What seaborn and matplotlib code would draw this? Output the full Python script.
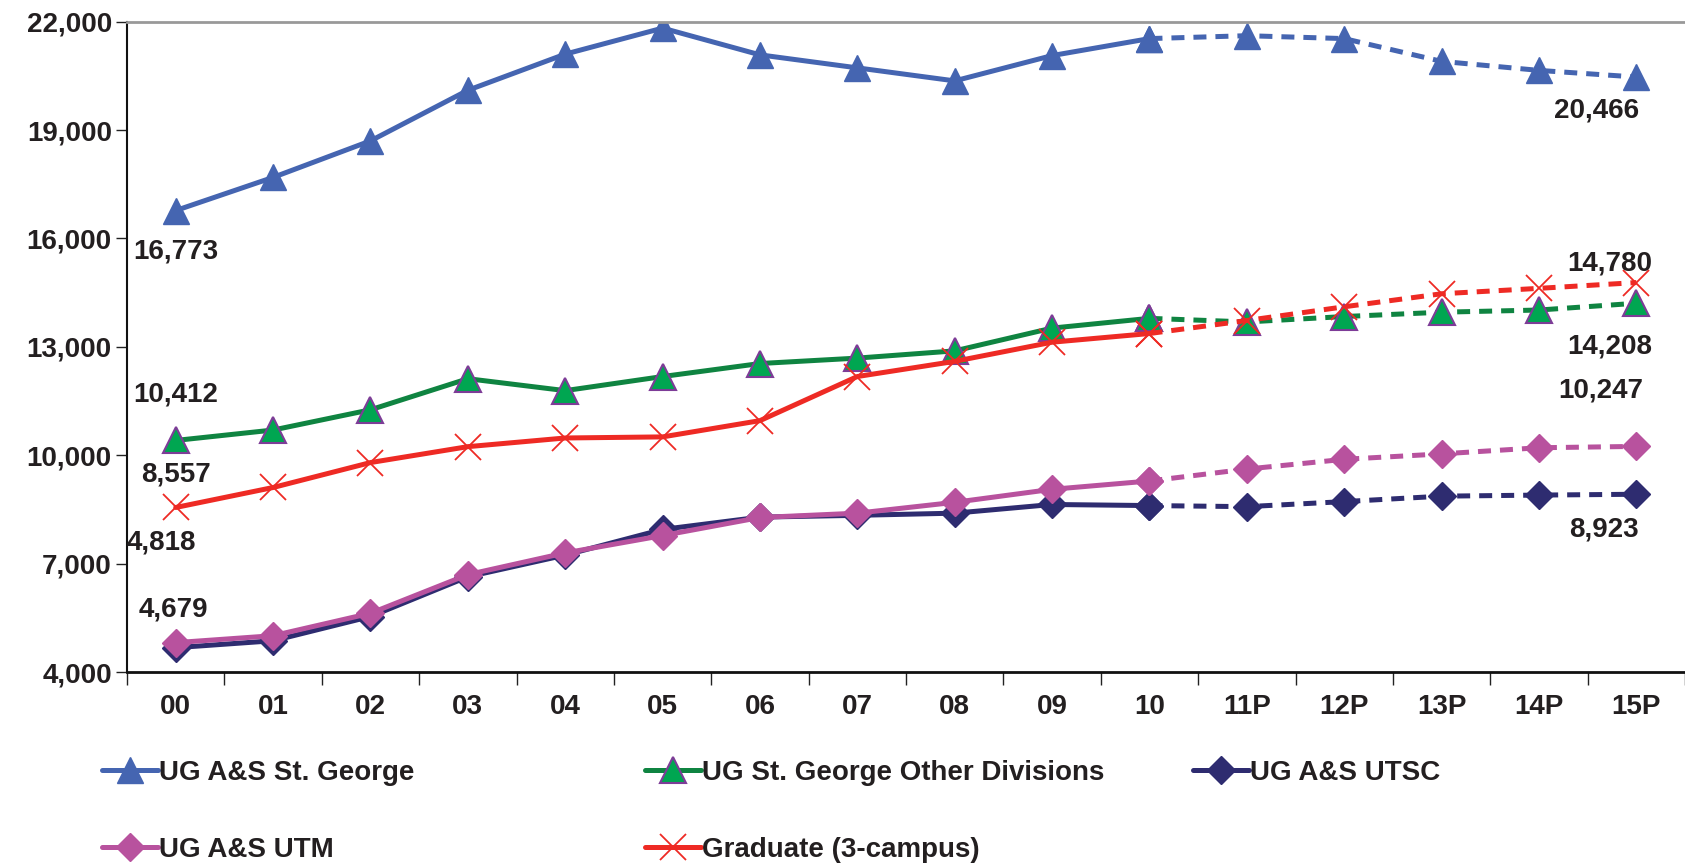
"""
enrolment_trend.py - UofT enrolment trend 2000-2015 (actual + projected)
"""

import matplotlib
matplotlib.use("Agg")
import matplotlib.pyplot as plt
import seaborn as sns
from matplotlib.lines import Line2D
from matplotlib.ticker import FuncFormatter, FixedLocator

# ============================================================
# data
# ============================================================

years = ["00", "01", "02", "03", "04", "05", "06", "07", "08", "09", "10",
         "11P", "12P", "13P", "14P", "15P"]

st_george = [16773, 17690, 18700, 20100, 21100, 21820, 21080, 20720, 20360,
             21060, 21530, 21610, 21530, 20900, 20650, 20466]
other_div = [10412, 10700, 11260, 12120, 11790, 12180, 12540, 12690, 12890,
             13520, 13790, 13690, 13840, 13960, 14020, 14208]
utsc = [4679, 4870, 5540, 6640, 7240, 7950, 8290, 8340, 8400,
        8640, 8610, 8580, 8720, 8870, 8900, 8923]
utm = [4818, 5010, 5630, 6700, 7300, 7780, 8280, 8400, 8700,
       9060, 9290, 9620, 9890, 10040, 10210, 10247]
graduate = [8557, 9110, 9800, 10240, 10480, 10510, 10960, 12180, 12600,
            13130, 13370, 13730, 14110, 14470, 14620, 14780]

y_ticks = [4000, 7000, 10000, 13000, 16000, 19000, 22000]

labels = ["UG A&S St. George", "UG St. George Other Divisions", "UG A&S UTSC",
          "UG A&S UTM", "Graduate (3-campus)"]

LAST_ACTUAL = 10  # index of "10"; after that values are projections

# ============================================================
# style
# ============================================================

sns.set_style("white")
plt.rcParams["font.family"] = ["Liberation Sans", "DejaVu Sans"]
plt.rcParams["font.weight"] = "bold"
TXT = "#231F20"
FS = 20

styles = [
    dict(color="#4565B1", marker="^", markersize=19, mfc="#4565B1", mec="#4565B1", mew=1),
    dict(color="#0F8441", marker="^", markersize=19, mfc="#00A651", mec="#7D3C97", mew=1.5),
    dict(color="#2E2C70", marker="D", markersize=14, mfc="#2E2C70", mec="#2E2C70", mew=1),
    dict(color="#B8529E", marker="D", markersize=14, mfc="#B8529E", mec="#B8529E", mew=1),
    dict(color="#EE2A24", marker="x", markersize=19, mfc="#EE2A24", mec="#EE2A24", mew=1.3),
]
series = [st_george, other_div, utsc, utm, graduate]

fig = plt.figure(figsize=(16.85, 8.64), dpi=100)
ax = fig.add_axes([0.0754, 0.222, 0.9246, 0.753])

idx = list(range(len(years)))
for vals, st in zip(series, styles):
    # actual part, solid
    sns.lineplot(x=idx[:LAST_ACTUAL + 1], y=vals[:LAST_ACTUAL + 1], ax=ax,
                 lw=3.6, linestyle="-", **st)
    # projection, dashed
    sns.lineplot(x=idx[LAST_ACTUAL:], y=vals[LAST_ACTUAL:], ax=ax,
                 lw=3.6, dashes=False, linestyle=(0, (2.6, 1.8)), **st)

# ============================================================
# axes
# ============================================================

ax.set_xlim(-0.5, len(years) - 0.5)
ax.set_ylim(y_ticks[0], y_ticks[-1])
ax.yaxis.set_major_locator(FixedLocator(y_ticks))
ax.yaxis.set_major_formatter(FuncFormatter(lambda v, p: f"{int(v):,}"))
ax.set_xticks(idx)
ax.set_xticklabels(years)
ax.xaxis.set_minor_locator(FixedLocator([i - 0.5 for i in range(len(years) + 1)]))
ax.tick_params(axis="x", which="major", length=0, pad=16, labelsize=FS, labelcolor=TXT)
ax.tick_params(axis="x", which="minor", length=9, width=1, color="#222", direction="out")
ax.tick_params(axis="y", which="major", length=8, width=1, color="#222", direction="out",
               pad=3, labelsize=FS, labelcolor=TXT)
ax.tick_params(bottom=True, left=True, which="both")
for lab in ax.get_xticklabels() + ax.get_yticklabels():
    lab.set_fontweight("bold")

ax.spines["left"].set_color("#111")
ax.spines["left"].set_linewidth(1.5)
ax.spines["bottom"].set_color("#111")
ax.spines["bottom"].set_linewidth(2)
ax.spines["top"].set_color("#999")
ax.spines["top"].set_linewidth(2)
ax.spines["right"].set_visible(False)
ax.set_xlabel("")
ax.set_ylabel("")

# ============================================================
# data labels (first / last values), offsets in pixels
# ============================================================

notes = [
    (0, st_george[0], 0, -41),
    (0, other_div[0], 0, 46),
    (0, graduate[0], 0, 33),
    (0, utm[0], -14, 100),
    (0, utsc[0], -2, 38),
    (15, st_george[-1], -40, -33),
    (15, graduate[-1], -27, 19),
    (15, other_div[-1], -27, -43),
    (15, utm[-1], -36, 56),
    (15, utsc[-1], -32, -35),
]
for x, v, dx, dy in notes:
    ax.annotate(f"{v:,}", xy=(x, v), xytext=(dx, dy), textcoords="offset pixels",
                ha="center", va="center", fontsize=FS, fontweight="bold", color=TXT)

# ============================================================
# legend: three columns placed by hand
# ============================================================

def handle(i):
    return Line2D([], [], lw=3.6, **styles[i])

columns = [([0, 3], 102), ([1, 4], 645), ([2], 1193)]
for items, px in columns:
    leg = fig.legend([handle(i) for i in items], [labels[i] for i in items],
                     loc="upper left", bbox_to_anchor=(px / 1685, 1 - 760 / 864),
                     frameon=False, borderpad=0, borderaxespad=0,
                     handlelength=2.0, handletextpad=0.05, labelspacing=1.82,
                     prop={"size": FS, "weight": "bold"})
    for t in leg.get_texts():
        t.set_color(TXT)

fig.savefig("out.png", dpi=100)
